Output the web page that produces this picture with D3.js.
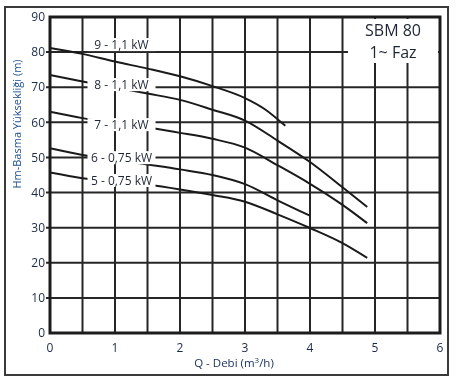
<!DOCTYPE html>
<html>
<head>
<meta charset="utf-8">
<script src="https://cdn.jsdelivr.net/npm/d3@7"></script>
<style>
  body { margin: 0; background: #fff; }
  svg { will-change: transform; }
  svg text { font-family: "Open Sans", sans-serif; }
</style>
</head>
<body>
<svg id="chart" width="457" height="380"></svg>
<script>
// pump curves, Q in m3/h, H in m
const curveNames = ["9 - 1,1 kW", "8 - 1,1 kW", "7 - 1,1 kW", "6 - 0,75 kW", "5 - 0,75 kW"];
const q9 = [0, 0.5, 1, 1.5, 2, 2.5, 3, 3.3, 3.62];
const h9 = [81.2, 79.5, 77.3, 75.3, 73.1, 70.3, 66.9, 63.8, 59];
const q8 = [0, 0.5, 1.5, 2, 2.5, 3, 3.5, 4, 4.5, 4.88];
const h8 = [73.5, 71.6, 68.2, 66.4, 63.6, 60.5, 54.8, 48.7, 41.5, 35.9];
const q7 = [0, 0.5, 1.5, 2, 2.5, 3, 3.5, 4, 4.5, 4.88];
const h7 = [63, 61.2, 58.5, 57, 55.3, 52.8, 47.8, 42.5, 36.5, 31.3];
const q6 = [0, 0.5, 1.5, 2, 2.5, 3, 3.5, 4];
const h6 = [52.6, 50.7, 48, 46.6, 45, 42.4, 37.8, 33.4];
const q5 = [0, 0.5, 1.5, 2, 2.5, 3, 3.5, 4, 4.5, 4.88];
const h5 = [45.7, 44.1, 42.3, 40.9, 39.3, 37.4, 33.8, 29.9, 25.6, 21.4];
const xTicks = [0, 1, 2, 3, 4, 5, 6];
const yTicks = [0, 10, 20, 30, 40, 50, 60, 70, 80, 90];

// where the curve labels sit (data coords)
const labelQ = 1.1;
const labelH = [82, 70.6, 59.2, 49.8, 43.3];

const series = [[q9, h9], [q8, h8], [q7, h7], [q6, h6], [q5, h5]]
  .map(([q, h]) => q.map((d, i) => ({ q: d, h: h[i] })));

const svg = d3.select("#chart");
const x = d3.scaleLinear().domain([0, 6]).range([50, 440]);
const y = d3.scaleLinear().domain([0, 90]).range([333, 17]);

const tickColor = "#1b2a47";
const lineColor = "#262626";

// outer frame
svg.append("rect")
  .attr("x", 5).attr("y", 7).attr("width", 443).attr("height", 368)
  .attr("fill", "none").attr("stroke", "#3a3a3a").attr("stroke-width", 2);

// grid
const g = svg.append("g");
g.selectAll(".vg").data(d3.range(1, 12).map(d => d / 2)).enter().append("line")
  .attr("x1", d => x(d)).attr("x2", d => x(d))
  .attr("y1", y(0)).attr("y2", y(90))
  .attr("stroke", lineColor).attr("stroke-width", 2);
g.selectAll(".hg").data(yTicks.slice(1, -1)).enter().append("line")
  .attr("x1", x(0) - 4).attr("x2", x(6))
  .attr("y1", d => y(d)).attr("y2", d => y(d))
  .attr("stroke", lineColor).attr("stroke-width", 2);

// curves
const line = d3.line().x(d => x(d.q)).y(d => y(d.h)).curve(d3.curveMonotoneX);
svg.selectAll(".curve").data(series).enter().append("path")
  .attr("d", line)
  .attr("fill", "none").attr("stroke", "#1a1a1a").attr("stroke-width", 2);

// curve labels with white backing
const lab = svg.selectAll(".lab").data(curveNames).enter().append("g")
  .attr("transform", (d, i) => `translate(${x(labelQ)},${y(labelH[i])})`);
lab.append("rect")
  .attr("x", -34).attr("y", -7).attr("width", 68).attr("height", 13)
  .attr("fill", "#fff");
lab.append("text")
  .attr("text-anchor", "middle").attr("dy", "0.35em")
  .attr("font-size", 12).attr("fill", "#1e2536")
  .text(d => d);

// plot border
svg.append("rect")
  .attr("x", x(0)).attr("y", y(90))
  .attr("width", x(6) - x(0)).attr("height", y(0) - y(90))
  .attr("fill", "none").attr("stroke", "#1c1c1c").attr("stroke-width", 3);

// title box
svg.append("rect")
  .attr("x", 348).attr("y", y(90) + 2).attr("width", x(6) - 348 - 2).attr("height", 44)
  .attr("fill", "#fff");
svg.append("text").attr("x", 393).attr("y", 36)
  .attr("text-anchor", "middle").attr("font-size", 16).attr("fill", "#1e2536")
  .text("SBM 80");
svg.append("text").attr("x", 393).attr("y", 58)
  .attr("text-anchor", "middle").attr("font-size", 16).attr("fill", "#1e2536")
  .text("1~ Faz");

// tick labels
svg.selectAll(".xt").data(xTicks).enter().append("text")
  .attr("x", d => x(d)).attr("y", 352)
  .attr("text-anchor", "middle").attr("font-size", 12).attr("fill", tickColor)
  .text(d => d);
svg.selectAll(".yt").data(yTicks).enter().append("text")
  .attr("x", 45).attr("y", d => y(d)).attr("dy", "0.35em")
  .attr("text-anchor", "end").attr("font-size", 12).attr("fill", tickColor)
  .text(d => d);

// axis titles
const xt = svg.append("text").attr("x", 234).attr("y", 367)
  .attr("text-anchor", "middle").attr("font-size", 11.5).attr("fill", "#1b3560");
xt.append("tspan").text("Q - Debi (m");
xt.append("tspan").attr("dy", -4).attr("font-size", 8).text("3");
xt.append("tspan").attr("dy", 4).text("/h)");

svg.append("text")
  .attr("transform", "translate(21,124) rotate(-90)")
  .attr("text-anchor", "middle").attr("font-size", 11).attr("fill", "#1f4f91")
  .text("Hm-Basma Yüksekliği (m)");
</script>
</body>
</html>
